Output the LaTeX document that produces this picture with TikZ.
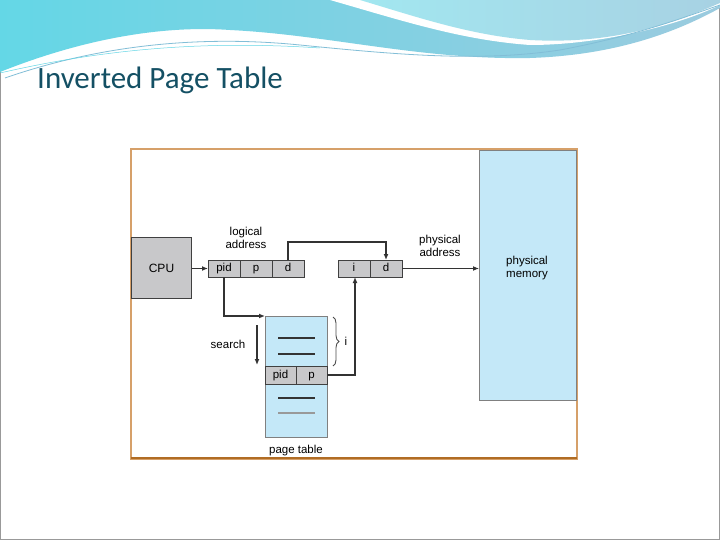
\documentclass[tikz,border=0pt]{standalone}
\usepackage{fontspec}
\setmainfont{Liberation Sans}
\newfontfamily\titlefont{Carlito}
\usetikzlibrary{arrows.meta,decorations.pathreplacing}
\definecolor{tblue}{RGB}{196,232,248}
\definecolor{cgray}{RGB}{200,200,202}
\definecolor{frameor}{RGB}{196,120,40}
\definecolor{wave1}{RGB}{130,190,215}
\definecolor{wave2}{RGB}{100,215,230}
\definecolor{titlec}{RGB}{20,80,100}
\tikzset{
 cell/.style={draw=black!75,line width=0.9pt,fill=cgray,minimum width=32pt,minimum height=17pt,inner sep=0pt,outer sep=0pt,text height=1.3ex,text depth=0.1ex,font=\fontsize{11.5}{12}\selectfont},
 lbl/.style={font=\fontsize{11.5}{13}\selectfont,align=center,inner sep=0pt},
 arr/.style={draw=black!80,line width=1.3pt,-{Latex[length=6pt,width=5pt]}},
 rowline/.style={draw=black!80,line width=1.1pt},
}
\begin{document}
\begin{tikzpicture}[x=1pt,y=-1pt]
\useasboundingbox (0,0) rectangle (720,540);
\fill[white] (0,0) rectangle (720,540);
\draw[black!40] (0.5,0.5) rectangle (719.5,539.5);
% header waves
\shade[left color=wave2,right color=wave1!80] (0,0) -- (0,72) .. controls (80,40) and (160,25) .. (230,30) .. controls (330,35) and (420,60) .. (530,58) .. controls (620,55) and (680,30) .. (720,8) -- (720,0) -- cycle;
\fill[white] (330,0) .. controls (400,20) and (460,40) .. (530,45) .. controls (600,45) and (680,25) .. (720,5) -- (720,0) -- cycle;
\shade[left color=wave2!60,right color=wave1!70] (360,0) .. controls (420,18) and (470,35) .. (530,40) .. controls (620,45) and (680,20) .. (720,3) -- (720,0) -- cycle;
\draw[wave1,line width=0.8pt] (5,78) .. controls (100,45) and (200,35) .. (300,45) .. controls (400,55) and (480,62) .. (560,50) .. controls (640,35) and (690,15) .. (720,5);
\draw[wave2,line width=0.5pt] (0,73) .. controls (100,50) and (200,40) .. (320,48);
\node[anchor=west,inner sep=0pt,text=titlec,font=\titlefont\fontsize{31}{34}\selectfont] (title) at (37,80) {Inverted Page Table};
% frame
\draw[frameor!70,line width=1.5pt] (131,149) rectangle (577,459);
\draw[frameor!90!black,line width=2.5pt] (131,458) -- (577,458);
% physical memory
\node[draw=black!50,fill=tblue,minimum width=97pt,minimum height=250pt,anchor=north west,inner sep=0pt] (mem) at (479,150) {};
\node[lbl] (memt) at (527,268) {physical\\memory};
% CPU
\node[draw=black!75,line width=1pt,fill=cgray,minimum width=60pt,minimum height=61pt,anchor=north west,inner sep=0pt,font=\fontsize{12}{13}\selectfont] (cpu) at (131,237) {CPU};
% logical address
\node[cell,anchor=north west] (pid) at (208,260) {pid};
\node[cell,anchor=west] (p) at (pid.east) {p};
\node[cell,anchor=west] (d) at (p.east) {d};
\node[lbl] (la) at (246,238) {logical\\address};
% physical address
\node[cell,anchor=north west] (pi) at (338,260) {i};
\node[cell,anchor=west] (pd) at (pi.east) {d};
\node[lbl] (pa) at (440,246) {physical\\address};
% page table
\node[draw=black!50,fill=tblue,minimum width=62pt,minimum height=121pt,anchor=north west,inner sep=0pt] (pt) at (265,316) {};
\node[cell,minimum width=31pt,minimum height=18pt,anchor=north west] (tpid) at (265,366) {pid};
\node[cell,minimum width=31pt,minimum height=18pt,anchor=west] (tp) at (tpid.east) {p};
\draw[rowline] (278,338) -- (315,338);
\draw[rowline] (278,354) -- (315,354);
\draw[rowline] (278,398) -- (315,398);
\draw[rowline,black!40] (278,413) -- (315,413);
\node[lbl] (ptl) at (296,451) {page table};
% brace
\draw[black!70,line width=0.9pt,decorate,decoration={brace,amplitude=6pt}] (333,317) -- (333,366);
\node[lbl] (il) at (346,341) {i};
% search
\coordinate (s1) at (257,325);
\coordinate (s2) at (257,365);
\draw[arr] (s1) -- (s2);
\node[lbl] (sl) at (228,344) {search};
% connectors
\draw[arr] (cpu.east |- pid.west) -- (pid.west);
\draw[arr] (d.north) |- (287,242) -| (pd.north);
\draw[arr] (pid.south) |- (pt.north west);
\draw[arr] (tp.east) -| (355,277);
\draw[arr] (pd.east) -- (pd.east -| mem.west);
\end{tikzpicture}
\end{document}
